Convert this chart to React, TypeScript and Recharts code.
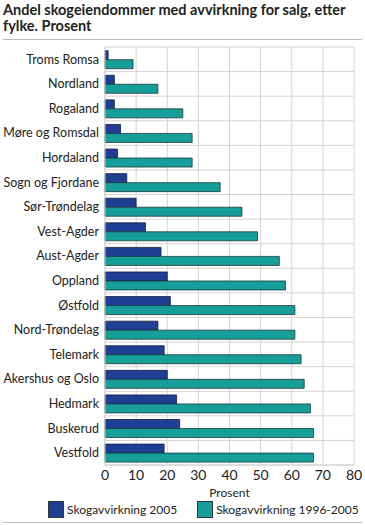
import { Bar, BarChart, CartesianGrid, Legend, XAxis, YAxis } from 'recharts'

const fylker = [
  'Troms Romsa',
  'Nordland',
  'Rogaland',
  'Møre og Romsdal',
  'Hordaland',
  'Sogn og Fjordane',
  'Sør-Trøndelag',
  'Vest-Agder',
  'Aust-Agder',
  'Oppland',
  'Østfold',
  'Nord-Trøndelag',
  'Telemark',
  'Akershus og Oslo',
  'Hedmark',
  'Buskerud',
  'Vestfold',
]

const avvirkning2005 = [1, 3, 3, 5, 4, 7, 10, 13, 18, 20, 21, 17, 19, 20, 23, 24, 19]
const avvirkning1996_2005 = [9, 17, 25, 28, 28, 37, 44, 49, 56, 58, 61, 61, 63, 64, 66, 67, 67]
const xTicks = [0, 10, 20, 30, 40, 50, 60, 70, 80]

const data = fylker.map((name, i) => ({
  name,
  a2005: avvirkning2005[i],
  a9605: avvirkning1996_2005[i],
}))

const font = 'Lato, sans-serif'

const legendItems = [
  { label: 'Skogavvirkning 2005', color: '#1f3f95' },
  { label: 'Skogavvirkning 1996-2005', color: '#169e9a' },
]

function LegendContent() {
  return (
    <div
      style={{
        display: 'flex',
        gap: 20,
        paddingLeft: 48,
        width: 317,
        fontFamily: font,
        fontSize: 12,
        lineHeight: '17px',
        color: '#222',
        whiteSpace: 'nowrap',
      }}
    >
      {legendItems.map((item) => (
        <div key={item.label} style={{ display: 'flex', alignItems: 'center', gap: 3, flexShrink: 0 }}>
          <span
            style={{
              width: 14,
              height: 15,
              background: item.color,
              border: '1px solid #333',
              display: 'inline-block',
              flexShrink: 0,
            }}
          />
          <span>{item.label}</span>
        </div>
      ))}
    </div>
  )
}

export default function App() {
  return (
    <div style={{ position: 'absolute', left: 0, top: 0, width: 365, height: 525, background: '#fff' }}>
      <div
        style={{
          position: 'absolute',
          left: 3,
          top: 2,
          fontFamily: font,
          fontWeight: 'bold',
          fontSize: 14.5,
          lineHeight: '16px',
          color: '#222',
          whiteSpace: 'nowrap',
        }}
      >
        Andel skogeiendommer med avvirkning for salg, etter
        <br />
        fylke. Prosent
      </div>
      <div style={{ position: 'absolute', left: 3, top: 39, width: 359, height: 1, background: '#bbb' }} />
      <div style={{ position: 'absolute', left: 3, top: 522, width: 359, height: 1, background: '#bbb' }} />
      <div style={{ position: 'absolute', left: 0, top: 40 }}>
        <BarChart
          width={365}
          height={485}
          data={data}
          layout="vertical"
          margin={{ top: 7, right: 11, bottom: 7, left: 0 }}
          barCategoryGap="15%"
          barGap={0}
        >
          <CartesianGrid
            stroke="#d4d4d4"
            horizontalCoordinatesGenerator={({ offset }: any) =>
              fylker.map((_, i) => offset.top + (i * offset.height) / fylker.length).concat(offset.top + offset.height)
            }
          />
          <XAxis
            type="number"
            domain={[0, 80]}
            ticks={xTicks}
            interval={0}
            tickLine={false}
            axisLine={{ stroke: '#d4d4d4' }}
            tick={{ fontFamily: font, fontSize: 14, fill: '#222' }}
            tickSize={3}
            height={36}
            label={{ value: 'Prosent', position: 'insideBottom', offset: 4, fontFamily: font, fontSize: 12, fill: '#222' }}
          />
          <YAxis
            type="category"
            dataKey="name"
            width={105}
            tickLine={false}
            axisLine={{ stroke: '#d4d4d4' }}
            tick={{ fontFamily: font, fontSize: 12.5, fill: '#222', width: 200 }}
            tickSize={4}
            interval={0}
          />
          <Bar dataKey="a2005" name="Skogavvirkning 2005" fill="#1f3f95" stroke="#1a1a3a" strokeWidth={0.8} isAnimationActive={false} />
          <Bar dataKey="a9605" name="Skogavvirkning 1996-2005" fill="#169e9a" stroke="#1a3a3a" strokeWidth={0.8} isAnimationActive={false} />
          <Legend verticalAlign="bottom" content={<LegendContent />} wrapperStyle={{ left: 0, width: 365 }} />
        </BarChart>
      </div>
    </div>
  )
}
